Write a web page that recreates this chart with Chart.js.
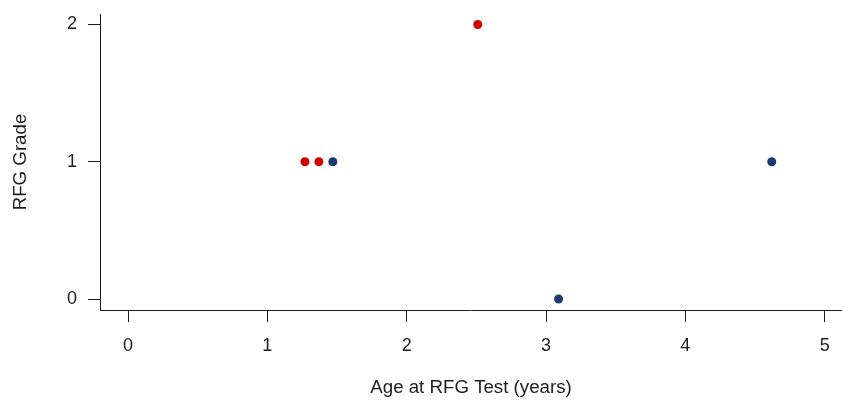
<!DOCTYPE html>
<html lang="en">
<head>
    <meta charset="UTF-8">
    <title>RFG Grade by Age</title>
    <script src="https://cdn.jsdelivr.net/npm/chart.js"></script>
    <style>
        html, body { margin: 0; padding: 0; background: #fff; }
        #wrap { width: 842px; height: 402px; }
    </style>
</head>
<body>
    <div id="wrap"><canvas id="rfgChart"></canvas></div>

    <script>
        // values
        const redAge = [1.27, 1.37, 2.51];
        const redGrade = [1, 1, 2];
        const blueAge = [1.47, 3.09, 4.62];
        const blueGrade = [1, 0, 1];
        const xTicks = [0, 1, 2, 3, 4, 5];
        const yTicks = [0, 1, 2];

        const ink = '#1e1e1e';
        const family = "'Liberation Sans', Arial, sans-serif";
        const tickFont = { family: family, size: 18 };
        const titleFont = { family: family, size: 18.7 };

        function toPoints(xs, ys) {
            return xs.map((x, i) => ({ x: x, y: ys[i] }));
        }

        function fixedTicks(values) {
            return scale => { scale.ticks = values.map(v => ({ value: v })); };
        }

        // fixed box size, and no extra room for overhanging labels
        function fixBox(prop, size) {
            return scale => {
                scale[prop] = size;
                scale.paddingTop = 0;
                scale.paddingBottom = 0;
                scale.paddingLeft = 0;
                scale.paddingRight = 0;
            };
        }

        new Chart(document.getElementById('rfgChart'), {
            type: 'scatter',
            data: {
                datasets: [
                    {
                        label: 'red',
                        data: toPoints(redAge, redGrade),
                        backgroundColor: '#d10000',
                        borderWidth: 0,
                        pointRadius: 4.5
                    },
                    {
                        label: 'blue',
                        data: toPoints(blueAge, blueGrade),
                        backgroundColor: '#1b3a69',
                        borderWidth: 0,
                        pointRadius: 4.5
                    }
                ]
            },
            options: {
                responsive: true,
                maintainAspectRatio: false,
                animation: false,
                layout: { autoPadding: false, padding: { top: 14, right: 0, left: 0, bottom: 0 } },
                plugins: {
                    legend: { display: false },
                    tooltip: { enabled: false }
                },
                scales: {
                    x: {
                        type: 'linear',
                        min: -0.201,
                        max: 5.124,
                        afterBuildTicks: fixedTicks(xTicks),
                        afterFit: fixBox('height', 92),
                        border: { display: true, color: ink, width: 1 },
                        grid: { drawOnChartArea: false, drawTicks: true, tickLength: 12, color: ink, lineWidth: 1 },
                        ticks: { color: ink, font: tickFont, padding: 13, maxRotation: 0 },
                        title: {
                            display: true,
                            text: 'Age at RFG Test (years)',
                            color: ink,
                            font: titleFont,
                            padding: { top: 0, bottom: 3 }
                        }
                    },
                    y: {
                        type: 'linear',
                        min: -0.0801,
                        max: 2.0765,
                        afterBuildTicks: fixedTicks(yTicks),
                        afterFit: fixBox('width', 100),
                        border: { display: true, color: ink, width: 1 },
                        grid: { drawOnChartArea: false, drawTicks: true, tickLength: 12, color: ink, lineWidth: 1 },
                        ticks: { color: ink, font: tickFont, padding: 11 },
                        title: {
                            display: true,
                            text: 'RFG Grade',
                            color: ink,
                            font: titleFont,
                            padding: { top: 10, bottom: 0 }
                        }
                    }
                }
            }
        });
    </script>
</body>
</html>
